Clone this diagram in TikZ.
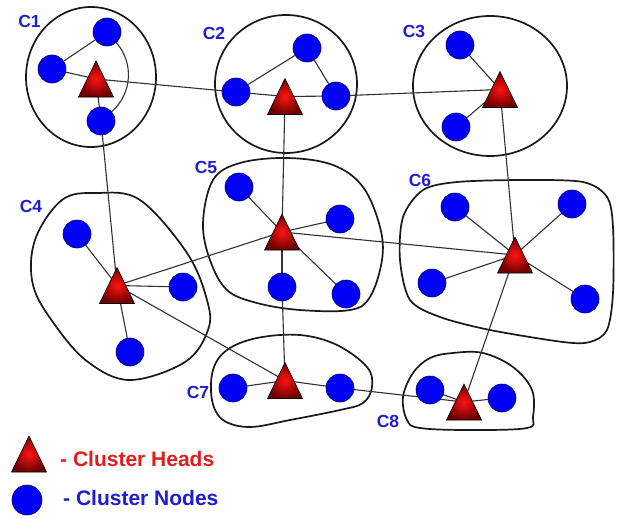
\documentclass[tikz,border=0pt]{standalone}
\usepackage{fontspec}
\setmainfont{Liberation Sans}
\usetikzlibrary{backgrounds}
\definecolor{nodeblue}{RGB}{0,0,245}
\definecolor{nodeedge}{RGB}{0,0,110}
\definecolor{headin}{RGB}{255,20,20}
\definecolor{headout}{RGB}{110,0,0}
\definecolor{lblblue}{RGB}{30,30,210}
\definecolor{lblred}{RGB}{225,30,30}
\definecolor{linkgray}{RGB}{50,50,50}
\tikzset{
  cnode/.style={circle, fill=nodeblue, draw=nodeedge, line width=0.6pt, minimum size=28pt, inner sep=0pt},
  clabel/.style={text=lblblue, font=\fontsize{17.5}{20}\selectfont\bfseries, inner sep=0pt},
  legtext/.style={font=\fontsize{21}{25}\selectfont\bfseries, inner sep=0pt, anchor=west},
  outline/.style={draw=black!90, line width=1.7pt},
  link/.style={draw=linkgray, line width=1.1pt},
}
\newcommand\headtri[3]{%
  \coordinate (#1) at (#2,#3);
  \shade[shading=radial, inner color=headin, outer color=headout, draw=black, line width=0.6pt, line join=miter]
    ([shift={(0,-18)}]#1) -- ([shift={(17.5,18)}]#1) -- ([shift={(-17.5,18)}]#1) -- cycle;}
\begin{document}
\begin{tikzpicture}[x=1pt, y=-1pt]
\useasboundingbox (0,0) rectangle (618,519);

% cluster member nodes
\node[cnode] (n1a) at (107,32) {};
\node[cnode] (n1b) at (52,69) {};
\node[cnode] (n1c) at (101,121) {};
\node[cnode] (n2a) at (307,48) {};
\node[cnode] (n2b) at (236,92) {};
\node[cnode] (n2c) at (336,96) {};
\node[cnode] (n3a) at (460,45) {};
\node[cnode] (n3b) at (456,127) {};
\node[cnode] (n4a) at (77,234) {};
\node[cnode] (n4b) at (183,287) {};
\node[cnode] (n4c) at (130,352) {};
\node[cnode] (n5a) at (239,187) {};
\node[cnode] (n5b) at (340,219) {};
\node[cnode] (n5c) at (282,287) {};
\node[cnode] (n5d) at (346,294) {};
\node[cnode] (n6a) at (455,207) {};
\node[cnode] (n6b) at (572,204) {};
\node[cnode] (n6c) at (432,283) {};
\node[cnode] (n6d) at (585,299) {};
\node[cnode] (n7a) at (233,388) {};
\node[cnode] (n7b) at (340,388) {};
\node[cnode] (n8a) at (430,390) {};
\node[cnode] (n8b) at (502,398) {};

% cluster heads
\headtri{h1}{96}{79}
\headtri{h2}{285}{96.5}
\headtri{h3}{500}{89.5}
\headtri{h4}{117}{285.5}
\headtri{h5}{282}{232}
\headtri{h6}{515}{255}
\headtri{h7}{285}{380.5}
\headtri{h8}{464}{402}

% labels
\node[clabel] (l1) at (29.5,21) {C1};
\node[clabel] (l2) at (214,33) {C2};
\node[clabel] (l3) at (414,31) {C3};
\node[clabel] (l4) at (31,206) {C4};
\node[clabel] (l5) at (206,167) {C5};
\node[clabel] (l6) at (420,180) {C6};
\node[clabel] (l7) at (198,392) {C7};
\node[clabel] (l8) at (388,421) {C8};

% legend
\headtri{lh}{29}{454}
\node[cnode, minimum size=30pt] (lc) at (27,500) {};
\node[legtext, text=lblred] (lt1) at (60,459) {- Cluster Heads};
\node[legtext, text=lblblue] (lt2) at (63,498) {- Cluster Nodes};

\begin{pgfonlayer}{background}
\fill[white] (0,0) rectangle (618,519);
% cluster outlines
\draw[outline] (91,77) ellipse [x radius=65, y radius=70];
\draw[outline] (286,84) ellipse [x radius=71, y radius=69];
\draw[outline] (490,86) ellipse [x radius=77, y radius=70];
\draw[outline] plot[smooth cycle, tension=0.6] coordinates {(97,193) (140,200) (187,253) (207,300) (208,330) (185,362) (130,380) (88,362) (55,325) (33,285) (35,240) (62,200)};
\draw[outline] plot[smooth cycle, tension=0.6] coordinates {(287,158) (333,165) (363,187) (380,227) (382,260) (370,297) (350,310) (300,310) (257,303) (227,290) (210,260) (203,223) (213,180) (240,163)};
\draw[outline] plot[smooth cycle, tension=0.5] coordinates {(423,190) (457,182) (523,180) (583,182) (607,197) (613,227) (613,293) (607,330) (590,342) (563,342) (490,330) (440,317) (410,300) (400,260) (403,217)};
\draw[outline] plot[smooth cycle, tension=0.6] coordinates {(257,338) (300,335) (337,345) (367,367) (372,387) (363,403) (340,410) (290,420) (250,427) (223,420) (212,400) (213,370) (227,350)};
\draw[outline] plot[smooth cycle, tension=0.6] coordinates {(453,353) (483,353) (513,367) (532,390) (533,417) (527,428) (470,430) (420,428) (407,420) (403,397) (413,373) (430,358)};

% links
\draw[link] (n1a) -- (n1b);
\draw[link] (n1b.center) -- (h1);
\draw[link] (h1) -- (n1c.center);
\draw[link] (n1a) to[bend left=45] (n1c);
\draw[link] (h1) -- (n2b.center);
\draw[link] (n1c.center) -- (h4);
\draw[link] (n2b) -- (n2a);
\draw[link] (n2a) -- (n2c);
\draw[link] (n2b.center) -- (h2);
\draw[link] (h2) -- (n2c.center);
\draw[link] (n2c.center) -- (h3);
\draw[link] (h2) -- (h5);
\draw[link] (n3a.center) -- (h3);
\draw[link] (n3b.center) -- (h3);
\draw[link] (h3) -- (h6);
\draw[link] (n4a.center) -- (h4);
\draw[link] (h4) -- (n4b.center);
\draw[link] (h4) -- (n4c.center);
\draw[link] (h4) -- (h5);
\draw[link] (h4) -- (h7);
\draw[link] (h5) -- (n5a.center);
\draw[link] (h5) -- (n5b.center);
\draw[link] (h5) -- (n5c.center);
\draw[link] (h5) -- (n5d.center);
\draw[link] (h5) -- (h6);
\draw[link] (n5c.center) -- (h7);
\draw[link] (h6) -- (n6a.center);
\draw[link] (h6) -- (n6b.center);
\draw[link] (h6) -- (n6c.center);
\draw[link] (h6) -- (n6d.center);
\draw[link] (h6) -- (h8);
\draw[link] (n7a.center) -- (h7);
\draw[link] (h7) -- (n7b.center);
\draw[link] (n7b.center) -- (h8);
\draw[link] (n8a.center) -- (h8);
\draw[link] (h8) -- (n8b.center);
\end{pgfonlayer}
\end{tikzpicture}
\end{document}
